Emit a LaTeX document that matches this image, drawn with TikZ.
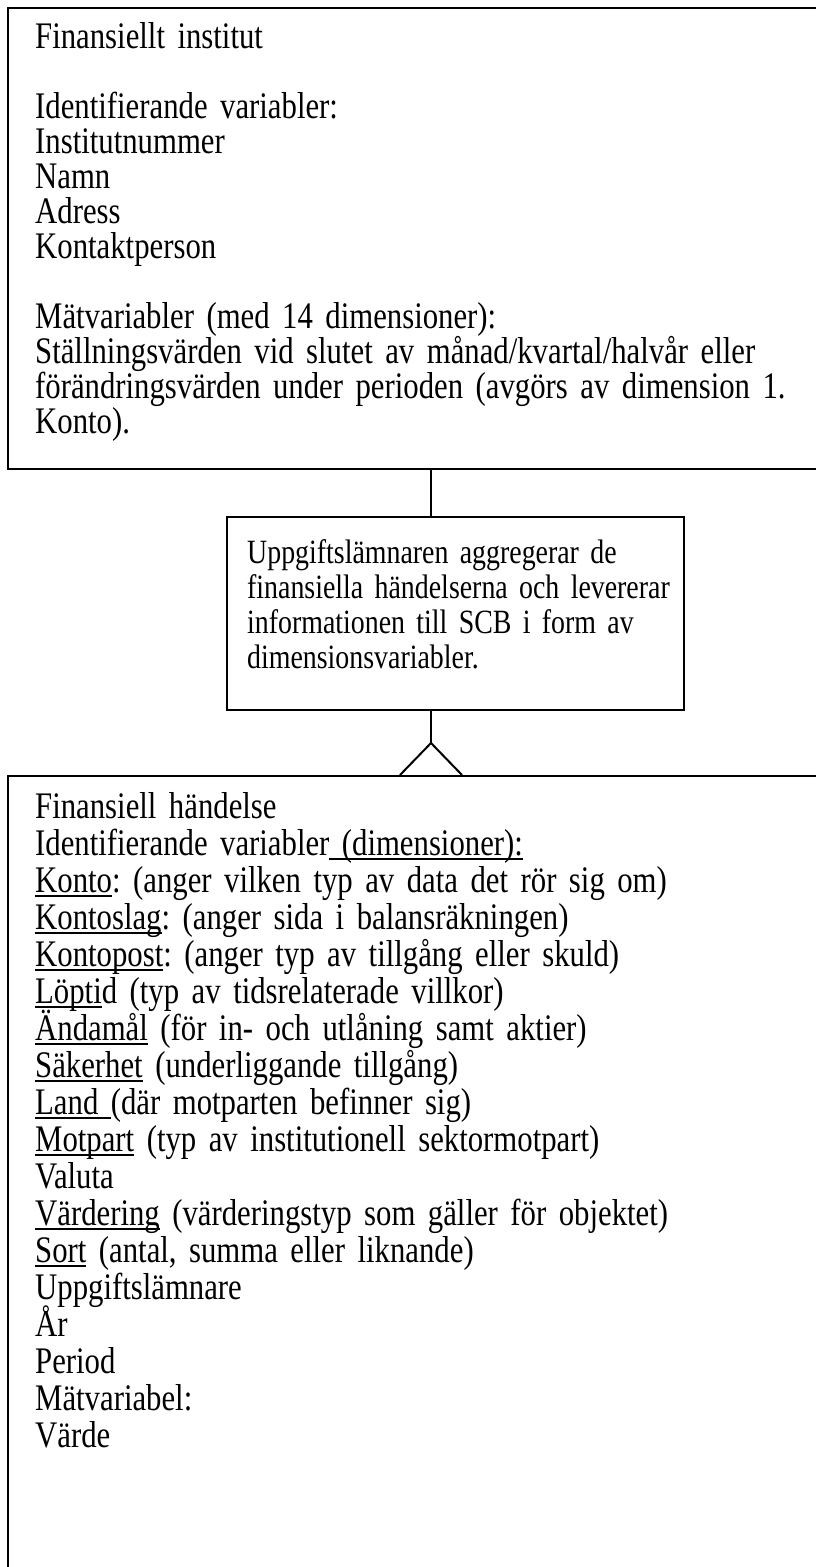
\documentclass[tikz,border=0pt]{standalone}
\usepackage{fontspec}
\setmainfont{Liberation Serif}[FakeStretch=0.82]
\usetikzlibrary{positioning}

\newcommand\uword[1]{\leavevmode\setbox0\hbox{#1}\rlap{\rule[-4.5pt]{\wd0}{1.8pt}}\box0\relax}
\newcommand\boxfont[2]{\fontsize{#1}{#2}\selectfont\lineskiplimit=-60pt\frenchspacing}

\tikzset{
  entity/.style={draw, line width=2pt, anchor=north west, inner sep=0pt},
  boxtext/.style={anchor=north west, inner sep=0pt, align=left, text width=780pt},
  link/.style={line width=2pt},
}

\begin{document}
\begin{tikzpicture}[x=1pt, y=-1pt]
    \useasboundingbox (0,0) rectangle (816,1567);
    \clip (0,0) rectangle (816,1567);

    % rutor
    \node[entity, minimum width=840pt, minimum height=461pt] (inst) at (7,7) {};
    \node[entity, minimum width=457pt, minimum height=193pt] (mid) at (226,516) {};
    \node[entity, minimum width=840pt, minimum height=830pt] (event) at (7,775) {};

    % kopplingar
    \coordinate (c1) at (431,0);
    \coordinate (foot) at (431,743);
    \draw[link] (inst.south -| c1) -- (mid.north -| c1);
    \draw[link] (mid.south -| foot) -- (foot);
    \draw[link] (event.north -| 400,0) -- (foot) -- (event.north -| 462,0);

    % texter
    \node[boxtext, font=\boxfont{37.5}{35}] (insttxt) at (35,22) {Finansiellt institut\\[35pt]
        Identifierande variabler:\\ Institutnummer\\ Namn\\ Adress\\ Kontaktperson\\[35pt]
        Mätvariabler (med 14 dimensioner):\\
        Ställningsvärden vid slutet av månad/kvartal/halvår eller\\
        förändringsvärden under perioden (avgörs av dimension 1.\\
        Konto).};
    \node[boxtext, font=\boxfont{34}{35}] (midtxt) at (247,539) {Uppgiftslämnaren aggregerar de\\
        finansiella händelserna och levererar\\
        informationen till SCB i form av\\
        dimensionsvariabler.};
    \node[boxtext, font=\boxfont{37.5}{37}] (eventtxt) at (35,792) {Finansiell händelse\\
        Identifierande variabler\uword{\ (dimensioner):}\\
        \uword{Konto}: (anger vilken typ av data det rör sig om)\\
        \uword{Kontoslag}: (anger sida i balansräkningen)\\
        \uword{Kontopost}: (anger typ av tillgång eller skuld)\\
        \uword{Löpti}d (typ av tidsrelaterade villkor)\\
        \uword{Ändamål} (för in- och utlåning samt aktier)\\
        \uword{Säkerhet} (underliggande tillgång)\\
        \uword{Land\ }(där motparten befinner sig)\\
        \uword{Motpart} (typ av institutionell sektormotpart)\\
        Valuta\\
        \uword{Värdering} (värderingstyp som gäller för objektet)\\
        \uword{Sort} (antal, summa eller liknande)\\
        Uppgiftslämnare\\
        År\\
        Period\\
        Mätvariabel:\\
        Värde};
\end{tikzpicture}
\end{document}
